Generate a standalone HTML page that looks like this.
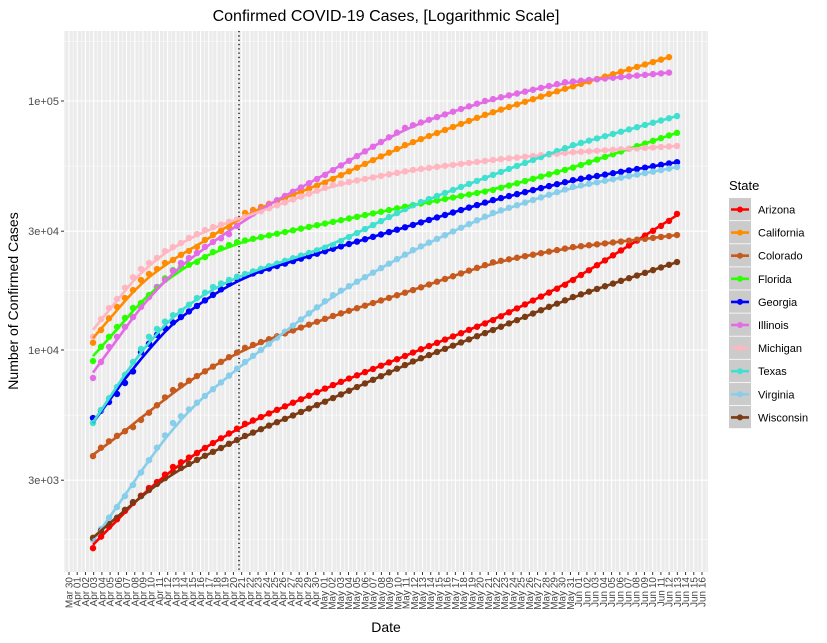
<!DOCTYPE html>
<html><head><meta charset="utf-8">
<style>
html,body{margin:0;padding:0;background:#fff;}
svg{display:block;font-family:"Liberation Sans",sans-serif;}
</style></head>
<body>
<svg id="chart" width="827" height="643" viewBox="0 0 827 643">
<text x="386" y="21" text-anchor="middle" font-size="16" fill="#000">Confirmed COVID-19 Cases, [Logarithmic Scale]</text>
<rect x="64" y="31" width="644" height="541" fill="#ebebeb"/>
<g id="grid"></g>
<g id="marks"></g>
<g id="axes"></g>
<text x="386" y="632" text-anchor="middle" font-size="14" fill="#000">Date</text>
<text transform="translate(18,301) rotate(-90)" text-anchor="middle" font-size="14" fill="#000">Number of Confirmed Cases</text>
<g id="legend"></g>
</svg>
<script>
const states = ["Arizona","California","Colorado","Florida","Georgia","Illinois","Michigan","Texas","Virginia","Wisconsin"];
const colors = ["#ff0000","#ff8c00","#c65a1e","#2aff00","#0000ff","#e46be6","#ffb6c1","#40e0d0","#87ceeb","#7a3a14"];
const arizona = [1600,1780,1950,2090,2260,2430,2600,2790,2950,3160,3390,3540,3700,3860,4040,4230,4420,4620,4830,5050,5210,5380,5560,5750,5940,6140,6340,6550,6770,7000,7230,7450,7680,7910,8150,8390,8650,8910,9180,9460,9770,10070,10370,10680,11010,11340,11680,12040,12400,12780,13180,13660,14170,14690,15240,15800,16390,17000,17620,18280,19100,20000,20900,21900,22900,24000,25100,26300,27500,28800,30100,31500,33000,35200];
const california = [10700,12030,13400,14900,16170,17400,19100,20200,21140,22360,23000,24100,25000,25940,27670,29000,30100,31200,33300,35500,36510,37550,38620,39720,40850,42020,43210,44440,45710,47000,48660,50380,52150,53990,55900,57870,59910,62030,64220,66500,68390,70330,72330,74380,76500,78670,80900,83200,85570,88000,90150,92350,94600,96910,99280,101700,104180,106720,109330,112000,114540,117140,119800,122520,125300,128140,131050,134020,137060,140170,143350,146600,150000];
const colorado = [3750,4050,4300,4520,4720,4900,5240,5600,6000,6450,6900,7210,7530,7860,8210,8580,8960,9360,9770,10200,10480,10760,11050,11350,11660,11980,12310,12640,12980,13340,13700,14030,14370,14720,15070,15440,15810,16190,16590,16990,17400,17850,18320,18800,19280,19780,20300,20830,21370,21920,22500,22820,23140,23470,23810,24140,24490,24840,25190,25550,25900,26120,26350,26570,26800,27030,27260,27490,27730,27960,28200,28450,28690,28950];
const florida = [9030,10300,11300,12370,13450,14740,15440,16620,17900,19400,20940,21540,22000,22570,23600,24750,25600,26400,27100,27530,27960,28400,28850,29310,29770,30240,30720,31210,31700,32200,32700,33210,33740,34270,34810,35360,35910,36480,37050,37630,38200,38740,39280,39830,40390,40960,41530,42110,42700,43300,43900,44820,45750,46710,47690,48680,49700,50740,51800,52880,54000,55350,56740,58170,59630,61120,62660,64230,65840,67490,69190,70920,72700,74500];
const georgia = [5330,5700,6180,6660,7370,8200,9800,10600,11500,12250,12900,13570,14290,15030,15820,16650,17520,18430,19400,19850,20300,20770,21250,21740,22240,22750,23270,23810,24360,24920,25500,26070,26650,27240,27850,28470,29110,29760,30420,31100,31800,32540,33290,34060,34850,35660,36490,37330,38200,39090,40000,40740,41500,42270,43060,43860,44680,45510,46350,47220,48100,48720,49350,49990,50630,51290,51950,52620,53300,53990,54690,55390,56110,56800];
const illinois = [7720,8950,10300,11300,12370,13560,14900,16320,17900,19120,20790,22360,23400,24520,25940,27160,28100,29200,31500,34200,35560,36980,38450,39980,41580,43230,44950,46740,48590,50500,52740,55090,57530,60090,62760,65540,68450,71490,74670,78000,79970,81980,84050,86160,88330,90560,92840,95180,97580,100000,101750,103530,105340,107190,109060,110970,112910,114890,116900,119000,119800,120620,121440,122260,123100,123930,124780,125630,126480,127340,128210,129080,130000];
const michigan = [11300,13300,14740,16030,17800,19600,21140,22360,23430,24970,25900,26900,28170,29200,30300,31150,31900,32700,33300,34210,35140,36100,37090,38100,39140,40210,41310,42440,43600,44790,46000,46650,47310,47970,48650,49340,50030,50740,51450,52180,52900,53390,53880,54380,54880,55380,55890,56410,56930,57460,58000,58420,58840,59260,59690,60120,60550,60990,61430,61870,62300,62570,62850,63120,63400,63680,63960,64240,64520,64810,65090,65380,65670,66000];
const texas = [5090,5740,6400,7100,7950,8950,10100,11300,12150,13000,13800,14340,15200,16170,17000,17900,18500,19120,19700,20190,20680,21190,21710,22250,22800,23360,23940,24530,25130,25760,26400,27390,28420,29490,30600,31750,32940,34180,35470,36800,38200,39280,40390,41540,42710,43920,45160,46440,47760,49110,50500,51910,53360,54850,56380,57960,59570,61240,62950,64700,66500,67890,69310,70760,72240,73750,75290,76860,78470,80110,81790,83500,85240,87000];
const virginia = [1730,1910,2120,2340,2590,2870,3220,3610,4050,4540,5090,5420,5770,6140,6540,6960,7410,7890,8410,8950,9470,10010,10590,11210,11850,12540,13260,14030,14840,15700,16600,17310,18040,18810,19610,20450,21320,22220,23170,24160,25200,26080,26990,27930,28910,29920,30960,32040,33160,34320,35500,36370,37250,38160,39090,40050,41020,42020,43050,44100,45200,45840,46490,47150,47820,48500,49190,49890,50600,51310,52040,52780,53530,54300];
const wisconsin = [1760,1880,2000,2120,2280,2450,2590,2740,2900,3060,3240,3360,3490,3620,3760,3900,4040,4200,4350,4518,4660,4810,4970,5130,5290,5460,5640,5820,6010,6200,6410,6630,6860,7100,7340,7590,7850,8130,8410,8700,9000,9270,9540,9820,10110,10410,10720,11030,11360,11690,12030,12400,12790,13180,13590,14010,14450,14900,15350,15830,16320,16730,17150,17590,18030,18480,18950,19420,19910,20410,20930,21450,21990,22560];
const yTickValues = [3000,10000,30000,100000];
const yTickLabels = ["3e+03","1e+04","3e+04","1e+05"];
const vlineDay = 18.25;

const series = [arizona,california,colorado,florida,georgia,illinois,michigan,texas,virginia,wisconsin];
const NS="http://www.w3.org/2000/svg";
const P={l:64,r:708,t:31,b:572};
function xScale(d){return 93+8.0*d;}
function yScale(v){return 350-(Math.log10(v)-4)*249;}
function mk(tag,attrs,parent){const e=document.createElementNS(NS,tag);for(const k in attrs)e.setAttribute(k,attrs[k]);parent.appendChild(e);return e;}
const grid=document.getElementById('grid'),marks=document.getElementById('marks'),axes=document.getElementById('axes'),legend=document.getElementById('legend');

const months=["Mar","Apr","May","Jun"],mdays=[31,30,31,30];
const xTickLabels=["Mar 30"];
for(let m=1;m<4;m++){for(let d=1;d<=mdays[m];d++){if(m===3&&d>16)break;xTickLabels.push(months[m]+" "+(d<10?"0"+d:d));}}
const tickStep=(702-69)/(xTickLabels.length-1);
function tickX(i){return 69+i*tickStep;}
for(let i=0;i<=xTickLabels.length;i++){const x=tickX(i)-tickStep/2;if(x>P.l&&x<P.r){
const l=mk('line',{x1:x,x2:x,y1:P.t,y2:P.b,stroke:'#fff','stroke-width':0.5},grid);

}}
const ylogs=[Math.log10(1000)].concat(yTickValues.map(v=>Math.log10(v))).concat([Math.log10(300000)]);
for(let i=0;i<ylogs.length-1;i++){const y=yScale(Math.pow(10,(ylogs[i]+ylogs[i+1])/2));if(y>P.t&&y<P.b){
const l=mk('line',{x1:P.l,x2:P.r,y1:y,y2:y,stroke:'#fff','stroke-width':0.5},grid);

}}
xTickLabels.forEach((lab,i)=>{const x=tickX(i);
const g=mk('line',{x1:x,x2:x,y1:P.t,y2:P.b,stroke:'#fff','stroke-width':1.1},grid);


const t=mk('line',{x1:x,x2:x,y1:P.b,y2:P.b+3,stroke:'#333','stroke-width':1},axes);


const tx=mk('text',{transform:`translate(${x+3.5},${P.b+5}) rotate(-90)`,'text-anchor':'end','font-size':'10',fill:'#444'},axes);
tx.textContent=lab;

});
yTickValues.forEach((v,i)=>{const y=yScale(v);
const g=mk('line',{x1:P.l,x2:P.r,y1:y,y2:y,stroke:'#fff','stroke-width':1.1},grid);


const t=mk('line',{x1:P.l-3,x2:P.l,y1:y,y2:y,stroke:'#333','stroke-width':1},axes);


const tx=mk('text',{x:P.l-5,y:y+4,'text-anchor':'end','font-size':'11',fill:'#4d4d4d'},axes);
tx.textContent=yTickLabels[i];

});
const vx=xScale(vlineDay);
const vl=mk('line',{x1:vx,x2:vx,y1:P.t,y2:P.b,stroke:'#000','stroke-width':1.3,'stroke-dasharray':'1.3,3'},marks);



series.forEach((arr,si)=>{
const g=mk('g',{},marks);


arr.forEach((v,d)=>{const c=mk('circle',{cx:xScale(d),cy:yScale(v),r:3.2,fill:colors[si]},g);

});
});
series.forEach((arr,si)=>{
const L=arr.map(v=>Math.log10(v));const pts=[];
for(let d=0;d<L.length;d++){let s=0,n=0;for(let k=-4;k<=4;k++){const j=d+k;if(j>=0&&j<L.length){s+=L[j];n++;}}
let m=s/n;if(d<4||d>L.length-5){
const a=Math.max(0,Math.min(L.length-9,d-4));let sx=0,sy=0,sxx=0,sxy=0;for(let j=a;j<a+9;j++){sx+=j;sy+=L[j];sxx+=j*j;sxy+=j*L[j];}
const b=(9*sxy-sx*sy)/(9*sxx-sx*sx);m=(sy-b*sx)/9+b*d;}
pts.push(xScale(d).toFixed(1)+','+(350-(m-4)*249).toFixed(1));}
const pl=mk('polyline',{points:pts.join(' '),fill:'none',stroke:colors[si],'stroke-width':2.6,'stroke-linejoin':'round'},marks);


});

const lt=mk('text',{x:729,y:190,'font-size':'13',fill:'#000'},legend);
lt.textContent='State';


states.forEach((s,i)=>{const y=198+i*23.1;
const g=mk('g',{},legend);


mk('rect',{x:729,y:y,width:22,height:22.3,fill:'#cbcbcb'},g);
mk('line',{x1:731,x2:749,y1:y+11.5,y2:y+11.5,stroke:colors[i],'stroke-width':2.6},g);
mk('circle',{cx:740,cy:y+11.5,r:3,fill:colors[i]},g);
const t=mk('text',{x:758,y:y+15.5,'font-size':'11',fill:'#000'},g);t.textContent=s;});
</script>
</body></html>
